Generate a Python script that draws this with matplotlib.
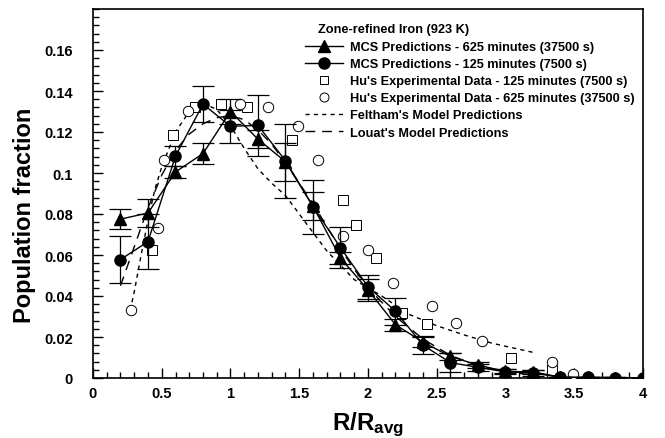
import matplotlib
matplotlib.use("Agg")
import matplotlib.pyplot as plt
from matplotlib.lines import Line2D
from matplotlib.ticker import MultipleLocator, FuncFormatter

plt.rcParams['font.family'] = ['Liberation Sans', 'DejaVu Sans']
plt.rcParams['font.weight'] = 'bold'
plt.rcParams['mathtext.fontset'] = 'custom'
plt.rcParams['mathtext.bf'] = 'Liberation Sans:bold'
plt.rcParams['mathtext.rm'] = 'Liberation Sans:bold'
plt.rcParams['mathtext.it'] = 'Liberation Sans:bold'

# ---- data ----
mcs_x = [0.2, 0.4, 0.6, 0.8, 1.0, 1.2, 1.4, 1.6, 1.8, 2.0, 2.2, 2.4, 2.6, 2.8, 3.0, 3.2, 3.4, 3.6, 3.8, 4.0]
mcs625_y = [0.0775, 0.0805, 0.1005, 0.1095, 0.130, 0.1165, 0.1055, 0.0838, 0.0585, 0.043, 0.026, 0.0175, 0.0105, 0.0063, 0.0032, 0.0030, 0.0004, 0.0003, 0.0002, 0.0001]
mcs625_err = [0.0049, 0.0067, 0.0028, 0.0053, 0.006, 0.0045, 0.0092, 0.0068, 0.0028, 0.0055, 0.0030, 0.0025, 0.0018, 0.0015, 0.0010, 0.0010, 0.0003, 0.0002, 0.0001, 0.0001]
mcs125_y = [0.0578, 0.0665, 0.1083, 0.1336, 0.1228, 0.1232, 0.1060, 0.0836, 0.0636, 0.0445, 0.0326, 0.0160, 0.0075, 0.0052, 0.0030, 0.0025, 0.0003, 0.0003, 0.0002, 0.0001]
mcs125_err = [0.0113, 0.0135, 0.0050, 0.0088, 0.0080, 0.0150, 0.0180, 0.0132, 0.0100, 0.0058, 0.0066, 0.0043, 0.0045, 0.0018, 0.0012, 0.0015, 0.0003, 0.0002, 0.0001, 0.0001]

hu125_x = [0.43, 0.58, 0.74, 0.93, 1.12, 1.45, 1.82, 1.91, 2.06, 2.245, 2.43, 3.04, 3.34]
hu125_y = [0.0624, 0.1185, 0.1320, 0.1337, 0.1323, 0.1160, 0.0868, 0.0746, 0.0584, 0.0319, 0.0263, 0.0096, 0.0039]

hu625_x = [0.276, 0.475, 0.516, 0.689, 1.07, 1.275, 1.49, 1.634, 1.815, 1.998, 2.185, 2.463, 2.64, 2.83, 3.34, 3.49]
hu625_y = [0.0332, 0.0730, 0.1063, 0.1304, 0.1337, 0.1320, 0.1230, 0.1063, 0.0693, 0.0624, 0.0465, 0.0351, 0.0267, 0.0182, 0.0080, 0.0020]

feltham_x = [0.27, 0.30, 0.35, 0.40, 0.45, 0.50, 0.60, 0.70, 0.80, 0.90, 1.00, 1.10, 1.20, 1.30, 1.40, 1.50, 1.60, 1.70, 1.80, 1.90, 2.00, 2.10, 2.30, 2.50, 2.70, 2.90, 3.20]
feltham_y = [0.033, 0.042, 0.060, 0.077, 0.092, 0.103, 0.120, 0.130, 0.134, 0.131, 0.123, 0.112, 0.102, 0.095, 0.089, 0.080, 0.071, 0.062, 0.055, 0.048, 0.044, 0.040, 0.031, 0.0255, 0.021, 0.017, 0.0125]

louat_x = [0.2, 0.3, 0.4, 0.5, 0.6, 0.7, 0.8, 0.9, 1.0, 1.1, 1.2, 1.3, 1.4, 1.5, 1.6, 1.7, 1.8, 1.9, 2.0, 2.2, 2.4, 2.6, 2.8, 3.0, 3.2]
louat_y = [0.045, 0.064, 0.083, 0.099, 0.111, 0.119, 0.124, 0.127, 0.128, 0.126, 0.121, 0.114, 0.105, 0.095, 0.085, 0.074, 0.063, 0.053, 0.044, 0.030, 0.019, 0.011, 0.006, 0.003, 0.0015]

yticks = [0, 0.02, 0.04, 0.06, 0.08, 0.1, 0.12, 0.14, 0.16]

legend_title = "Zone-refined Iron (923 K)"
labels = ["MCS Predictions - 625 minutes (37500 s)",
          "MCS Predictions - 125 minutes (7500 s)",
          "Hu's Experimental Data - 125 minutes (7500 s)",
          "Hu's Experimental Data - 625 minutes (37500 s)",
          "Feltham's Model Predictions",
          "Louat's Model Predictions"]

fig = plt.figure(figsize=(6.65, 4.39), dpi=100)
ax = fig.add_axes([93/665, 1-379/439, 550/665, 369/439])

ax.plot(feltham_x, feltham_y, color='black', lw=1.0, ls=(0, (3, 3)), zorder=2)
ax.plot(louat_x, louat_y, color='black', lw=1.0, ls=(0, (7, 5)), zorder=2)

ax.errorbar(mcs_x, mcs625_y, yerr=mcs625_err, color='black', lw=1.0, marker='^', ms=9,
            capsize=8, elinewidth=0.9, capthick=0.9, zorder=4)
ax.errorbar(mcs_x, mcs125_y, yerr=mcs125_err, color='black', lw=1.0, marker='o', ms=8,
            capsize=8, elinewidth=0.9, capthick=0.9, zorder=4)

ax.plot(hu125_x, hu125_y, ls='none', marker='s', ms=6.5, mfc='white', mec='black', mew=0.7, zorder=3)
ax.plot(hu625_x, hu625_y, ls='none', marker='o', ms=7.5, mfc='white', mec='black', mew=0.7, zorder=3)

ax.set_xlim(0, 4)
ax.set_ylim(0, 0.18)
ax.xaxis.set_major_locator(MultipleLocator(0.5))
ax.xaxis.set_minor_locator(MultipleLocator(0.1))
ax.yaxis.set_minor_locator(MultipleLocator(0.004))
ax.set_yticks(yticks)
fmt = FuncFormatter(lambda v, p: ('%.2f' % v).rstrip('0').rstrip('.') if abs(v) > 1e-9 else '0')
ax.xaxis.set_major_formatter(fmt)
ax.yaxis.set_major_formatter(fmt)
ax.tick_params(which='both', direction='in', top=False, right=False, labelsize=10.5, width=1)
ax.tick_params(which='major', length=7)
ax.tick_params(which='minor', length=4)
ax.tick_params(axis='y', which='major', pad=14.5)
ax.tick_params(axis='x', which='major', pad=5.5)
for s in ax.spines.values():
    s.set_linewidth(1.2)

ax.set_ylabel("Population fraction", fontsize=17, fontweight='bold')
ax.yaxis.set_label_coords(-0.104, 0.444)
ax.set_xlabel(r"$\mathbf{R/R_{avg}}$", fontsize=17.5, labelpad=7)

handles = [
    Line2D([], [], color='black', lw=1.0, marker='^', ms=9),
    Line2D([], [], color='black', lw=1.0, marker='o', ms=8),
    Line2D([], [], ls='none', marker='s', ms=6, mfc='white', mec='black', mew=0.7),
    Line2D([], [], ls='none', marker='o', ms=6.5, mfc='white', mec='black', mew=0.7),
    Line2D([], [], color='black', lw=1.0, ls=(0, (3, 3))),
    Line2D([], [], color='black', lw=1.0, ls=(0, (7, 5))),
]
leg = fig.legend(handles, labels, loc='upper left', bbox_to_anchor=(305/665, 1-42/439),
                 bbox_transform=fig.transFigure, frameon=False, fontsize=9.2,
                 handlelength=3.0, handletextpad=0.5, labelspacing=0.4, borderpad=0,
                 borderaxespad=0, markerfirst=True)
fig.text(318/665, 1-30/439, legend_title, fontsize=9.2, fontweight='bold', va='center', ha='left')

fig.savefig("out.png", dpi=100)
